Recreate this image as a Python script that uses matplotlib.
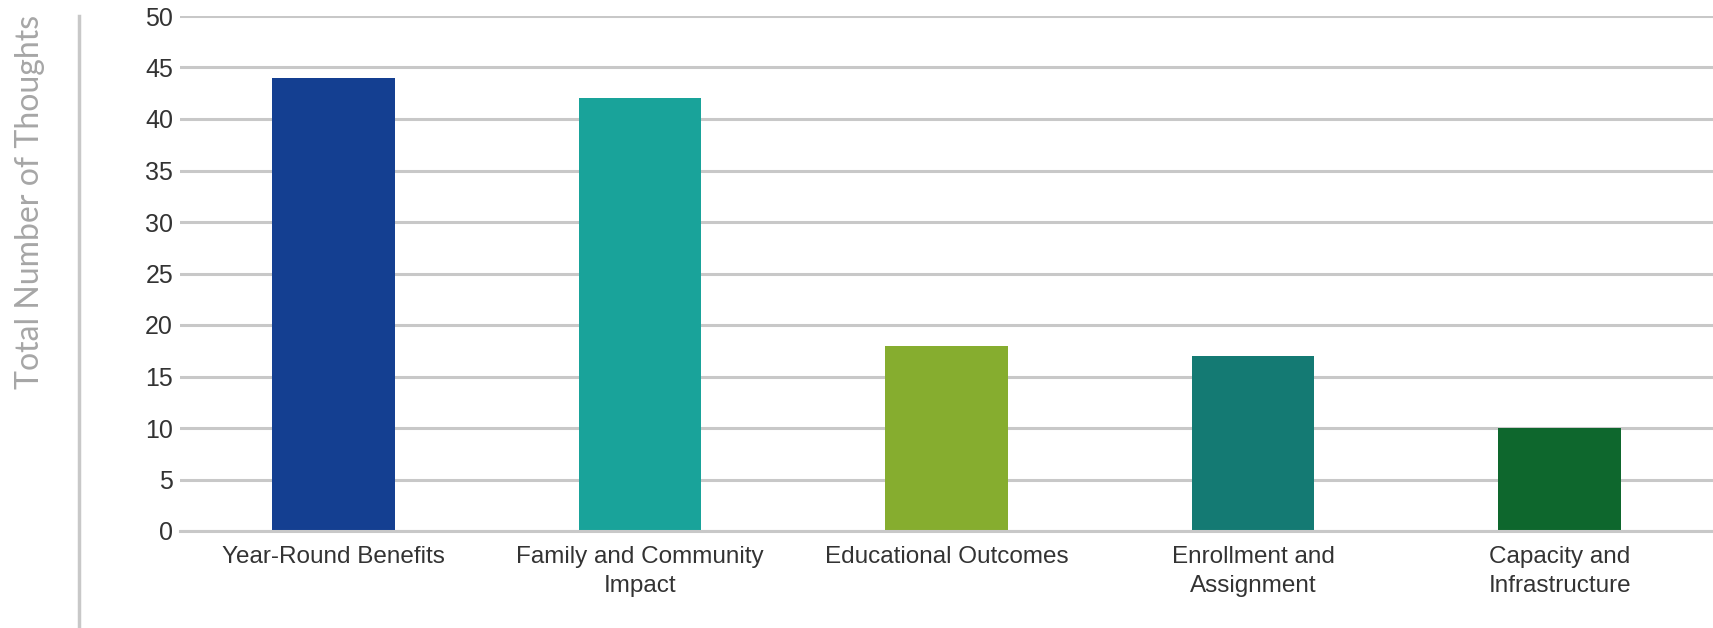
#!/usr/bin/env python3
"""Bar chart: total number of thoughts per theme."""
import matplotlib
matplotlib.use("Agg")
import matplotlib.pyplot as plt
from matplotlib.lines import Line2D

CATEGORIES = [
    "Year-Round Benefits",
    "Family and Community\nImpact",
    "Educational Outcomes",
    "Enrollment and\nAssignment",
    "Capacity and\nInfrastructure",
]
THOUGHTS = [44, 42, 18, 17, 10]
BAR_COLORS = ["#143f91", "#19a39a", "#86ad2f", "#147a73", "#0e672d"]
Y_TICKS = [0, 5, 10, 15, 20, 25, 30, 35, 40, 45, 50]

W, H = 1713, 628
GRID = "#c8c8c8"

plt.rcParams["font.family"] = ["Liberation Sans", "DejaVu Sans"]

fig = plt.figure(figsize=(W / 100, H / 100), dpi=100)
ax = fig.add_axes([180 / W, 1 - 531 / H, 1 - 180 / W, (531 - 16) / H])

x = range(len(CATEGORIES))
ax.bar(x, THOUGHTS, width=0.4, color=BAR_COLORS, zorder=3)
ax.set_xlim(-0.5, len(CATEGORIES) - 0.5)
ax.set_ylim(0, 50)
ax.set_yticks(Y_TICKS)
ax.set_xticks(list(x))
ax.set_xticklabels(CATEGORIES, fontsize=17.5, color="#333333", linespacing=1.45)
ax.tick_params(axis="y", length=0, pad=5, labelsize=18, labelcolor="#333333")
ax.tick_params(axis="x", length=0, pad=10.5)
ax.grid(axis="y", color=GRID, lw=2.2, zorder=0)
ax.set_axisbelow(True)
for side in ("top", "right", "left"):
    ax.spines[side].set_visible(False)
ax.spines["bottom"].set_color(GRID)
ax.spines["bottom"].set_linewidth(2.2)
ax.spines["bottom"].set_zorder(4)

# vertical rule at the far left
fig.add_artist(Line2D([79 / W, 79 / W], [0, 1 - 16 / H], color=GRID, lw=2.5))

fig.text(30 / W, 1 - 202 / H, "Total Number of Thoughts", rotation=90,
         ha="center", va="center", fontsize=23, color="#a6a6a6",
         family=["Lato", "DejaVu Sans"])

fig.savefig("out.png", dpi=100, facecolor="white")
